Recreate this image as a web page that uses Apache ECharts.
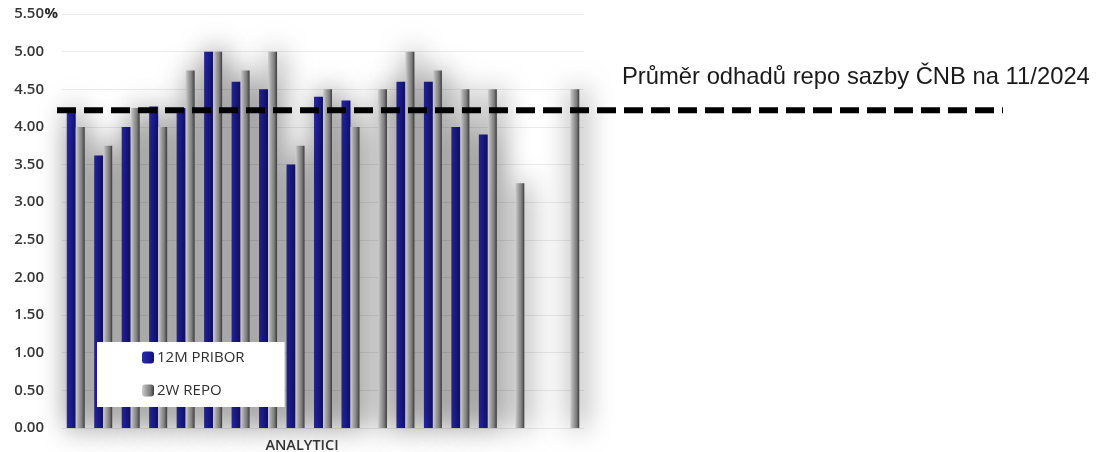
<!DOCTYPE html>
<html>
<head>
<meta charset="utf-8">
<script src="https://cdn.jsdelivr.net/npm/echarts@6/dist/echarts.min.js"></script>
<style>
  html, body { margin: 0; padding: 0; background: #ffffff; }
  #chart { width: 1098px; height: 452px; }
</style>
</head>
<body>
<div id="chart"></div>
<script>
// Analysts' estimates (one group per analyst)
const analysts = ['1','2','3','4','5','6','7','8','9','10','11','12','13','14','15','16','17','18','19'];
const pribor12m = [4.25, 3.62, 4.00, 4.27, 4.25, 5.00, 4.60, 4.50, 3.50, 4.40, 4.35, null, 4.60, 4.60, 4.00, 3.90, null, null, null];
const repo2w    = [4.00, 3.75, 4.25, 4.00, 4.75, 5.00, 4.75, 5.00, 3.75, 4.50, 4.00, 4.50, 5.00, 4.75, 4.50, 4.50, 3.25, null, 4.50];
const repoAverage = 4.22;
const seriesNames = ['12M PRIBOR', '2W REPO'];
const axisTitle = 'ANALYTICI';
const averageNote = 'Průměr odhadů repo sazby ČNB na 11/2024';

const labelColor = '#353535';
const uiFont = '"Open Sans", "Noto Sans", sans-serif';

const blueFill = new echarts.graphic.LinearGradient(0, 0, 1, 0, [
  { offset: 0, color: '#2b2bae' },
  { offset: 0.5, color: '#1d1d98' },
  { offset: 1, color: '#121270' }
]);
const greyFill = new echarts.graphic.LinearGradient(0, 0, 1, 0, [
  { offset: 0, color: '#cfcfcf' },
  { offset: 0.35, color: '#a2a2a2' },
  { offset: 0.7, color: '#7c7c7c' },
  { offset: 1, color: '#3a3a3a' }
]);
const barShadow = {
  shadowColor: 'rgba(0,0,0,0.6)',
  shadowBlur: 28,
  shadowOffsetX: 3
};

const chart = echarts.init(document.getElementById('chart'), null, { renderer: 'canvas' });

chart.setOption({
  animation: false,
  backgroundColor: '#ffffff',
  title: {
    text: averageNote,
    left: 617,
    top: 60,
    textStyle: {
      fontFamily: '"Liberation Sans", Arial, sans-serif',
      fontSize: 23.8,
      fontWeight: 'normal',
      color: '#1a1a1a'
    }
  },
  legend: {
    data: seriesNames,
    orient: 'vertical',
    left: 97,
    top: 342,
    padding: [8, 40, 9, 45],
    itemGap: 18,
    itemWidth: 12,
    itemHeight: 12,
    backgroundColor: '#ffffff',
    textStyle: { fontFamily: uiFont, fontSize: 15, fontWeight: 500, color: '#2e2e2e', padding: [0, 0, 0, -2] }
  },
  grid: [
    { left: 62, right: 514, top: 14, bottom: 24, outerBoundsMode: 'none', containLabel: false },
    { left: 57, right: 95, top: 14, bottom: 24, outerBoundsMode: 'none', containLabel: false }
  ],
  xAxis: [
    {
      type: 'category',
      gridIndex: 0,
      data: analysts,
      axisLine: { show: false },
      axisTick: { show: false },
      axisLabel: { show: false },
      name: axisTitle,
      nameLocation: 'middle',
      nameGap: 18,
      nameMoveOverlap: false,
      nameTextStyle: {
        fontFamily: uiFont,
        fontSize: 14.5,
        fontWeight: 600,
        color: labelColor,
        verticalAlign: 'middle',
        padding: [0, 42, 0, 0]
      }
    },
    { type: 'value', gridIndex: 1, min: 0, max: 1, show: false }
  ],
  yAxis: [
    {
      type: 'value',
      gridIndex: 0,
      min: 0,
      max: 5.5,
      interval: 0.5,
      axisLine: { show: false },
      axisTick: { show: false },
      splitLine: { lineStyle: { color: '#ebebeb', width: 1 } },
      axisLabel: {
        margin: 18,
        fontFamily: uiFont,
        fontSize: 15,
        fontWeight: 600,
        color: labelColor,
        formatter: v => v.toFixed(2)
      },
      name: '%',
      nameLocation: 'end',
      nameGap: 0,
      nameMoveOverlap: false,
      nameTextStyle: {
        fontFamily: uiFont,
        fontSize: 15,
        fontWeight: 'bold',
        color: '#262626',
        align: 'right',
        verticalAlign: 'middle',
        padding: [0, 4, 0, 0]
      }
    },
    { type: 'value', gridIndex: 1, min: 0, max: 5.5, show: false }
  ],
  series: [
    {
      name: seriesNames[0],
      type: 'bar',
      xAxisIndex: 0,
      yAxisIndex: 0,
      data: pribor12m,
      barWidth: 9,
      barGap: '0%',
      itemStyle: Object.assign({ color: blueFill }, barShadow)
    },
    {
      name: seriesNames[1],
      type: 'bar',
      xAxisIndex: 0,
      yAxisIndex: 0,
      data: repo2w,
      barWidth: 9,
      barGap: '0%',
      itemStyle: Object.assign({ color: greyFill }, barShadow)
    },
    {
      name: 'average',
      type: 'line',
      xAxisIndex: 1,
      yAxisIndex: 1,
      data: [[0, repoAverage], [1, repoAverage]],
      symbol: 'none',
      silent: true,
      z: 5,
      lineStyle: { color: '#000000', width: 6, type: [19, 8], cap: 'butt' }
    }
  ]
});
</script>
</body>
</html>
